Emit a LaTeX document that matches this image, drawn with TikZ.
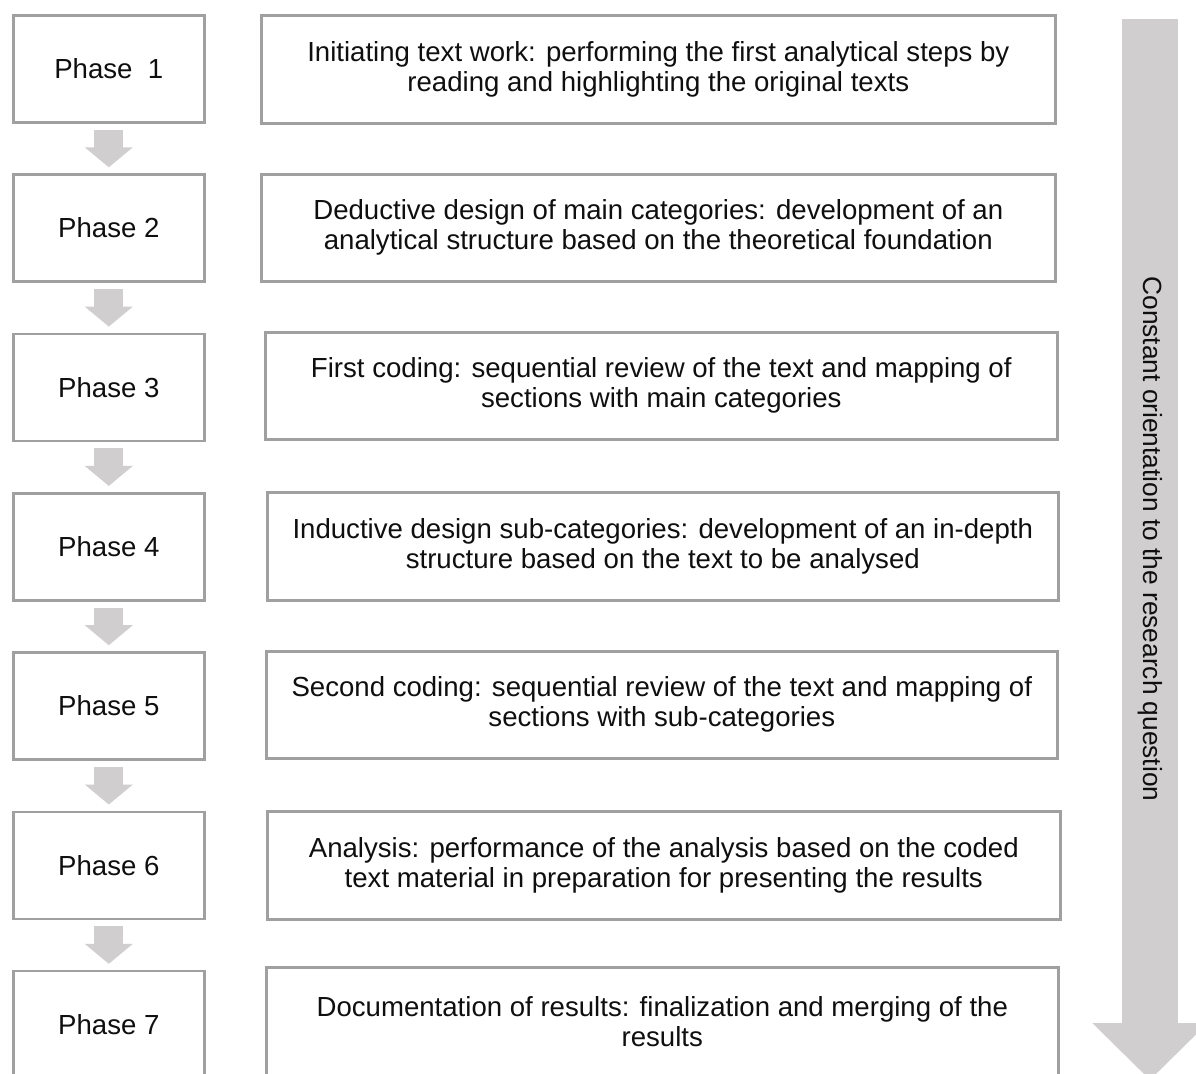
\documentclass[tikz,border=0pt]{standalone}
\usepackage{fontspec}
\setmainfont{Liberation Sans}
\usetikzlibrary{arrows.meta,calc}
\definecolor{boxline}{RGB}{160,160,160}
\definecolor{arrowgray}{RGB}{208,206,206}
\definecolor{txt}{RGB}{15,15,15}
\begin{document}
\begin{tikzpicture}[x=1pt,y=-1pt,
  phasebox/.style={draw=boxline, line width=2.6pt, fill=white, anchor=north west,
    minimum width=191pt, minimum height=107pt, inner sep=0pt, text=txt,
    font=\fontsize{27.6}{30}\selectfont},
  descbox/.style={draw=boxline, line width=2.6pt, fill=white, anchor=north west,
    inner sep=0pt, align=center, text=txt, font=\fontsize{27.6}{30}\selectfont},
  smallarrow/.style={draw=arrowgray, line width=29pt, line cap=butt,
    -{Triangle[width=47pt,length=20pt,fill=arrowgray]}},
  bigarrow/.style={draw=arrowgray, line width=56pt, line cap=butt,
    -{Triangle[width=112pt,length=57pt,fill=arrowgray]}},
  arrowtext/.style={rotate=-90, text=txt, font=\fontsize{26.3}{30}\selectfont}
]
\clip (0,0) rectangle (1196,1073);
\fill[white] (0,0) rectangle (1196,1073);

% big arrow
\coordinate (bigtop) at (1150,19);
\coordinate (bigend) at (1150,1080);
\draw[bigarrow] (bigtop) -- (bigend);
\node[arrowtext] (bigtext) at (1150,539) {Constant orientation to the research question};

% phase boxes
\node[phasebox] (p1) at (12,14)    {Phase\ \ 1};
\node[phasebox] (p2) at (12,173.3) {Phase 2};
\node[phasebox] (p3) at (12,332.6) {Phase 3};
\node[phasebox] (p4) at (12,491.9) {Phase 4};
\node[phasebox] (p5) at (12,651.2) {Phase 5};
\node[phasebox] (p6) at (12,810.5) {Phase 6};
\node[phasebox] (p7) at (12,969.8) {Phase 7};

% description boxes
\node[descbox, minimum width=794pt, minimum height=108pt] (d1) at (260,14)
  {Initiating text work: performing the first analytical steps by\\reading and highlighting the original texts};
\node[descbox, minimum width=794pt, minimum height=107pt] (d2) at (260,173)
  {Deductive design of main categories: development of an\\analytical structure based on the theoretical foundation};
\node[descbox, minimum width=792pt, minimum height=107pt] (d3) at (264,331)
  {First coding: sequential review of the text and mapping of\\sections with main categories};
\node[descbox, minimum width=791pt, minimum height=108pt] (d4) at (266,491)
  {Inductive design sub-categories: development of an in-depth\\structure based on the text to be analysed};
\node[descbox, minimum width=791pt, minimum height=107pt] (d5) at (265,650)
  {Second coding: sequential review of the text and mapping of\\sections with sub-categories};
\node[descbox, minimum width=793pt, minimum height=108pt] (d6) at (266,810)
  {Analysis: performance of the analysis based on the coded\\text material in preparation for presenting the results};
\node[descbox, minimum width=792pt, minimum height=109pt] (d7) at (265,966)
  {Documentation of results: finalization and merging of the\\results};

% small arrows
\foreach \a/\b in {p1/p2,p2/p3,p3/p4,p4/p5,p5/p6,p6/p7}{
  \draw[smallarrow] ([yshift=-6pt]\a.south) -- ([yshift=6pt]\b.north);
}
\end{tikzpicture}
\end{document}
